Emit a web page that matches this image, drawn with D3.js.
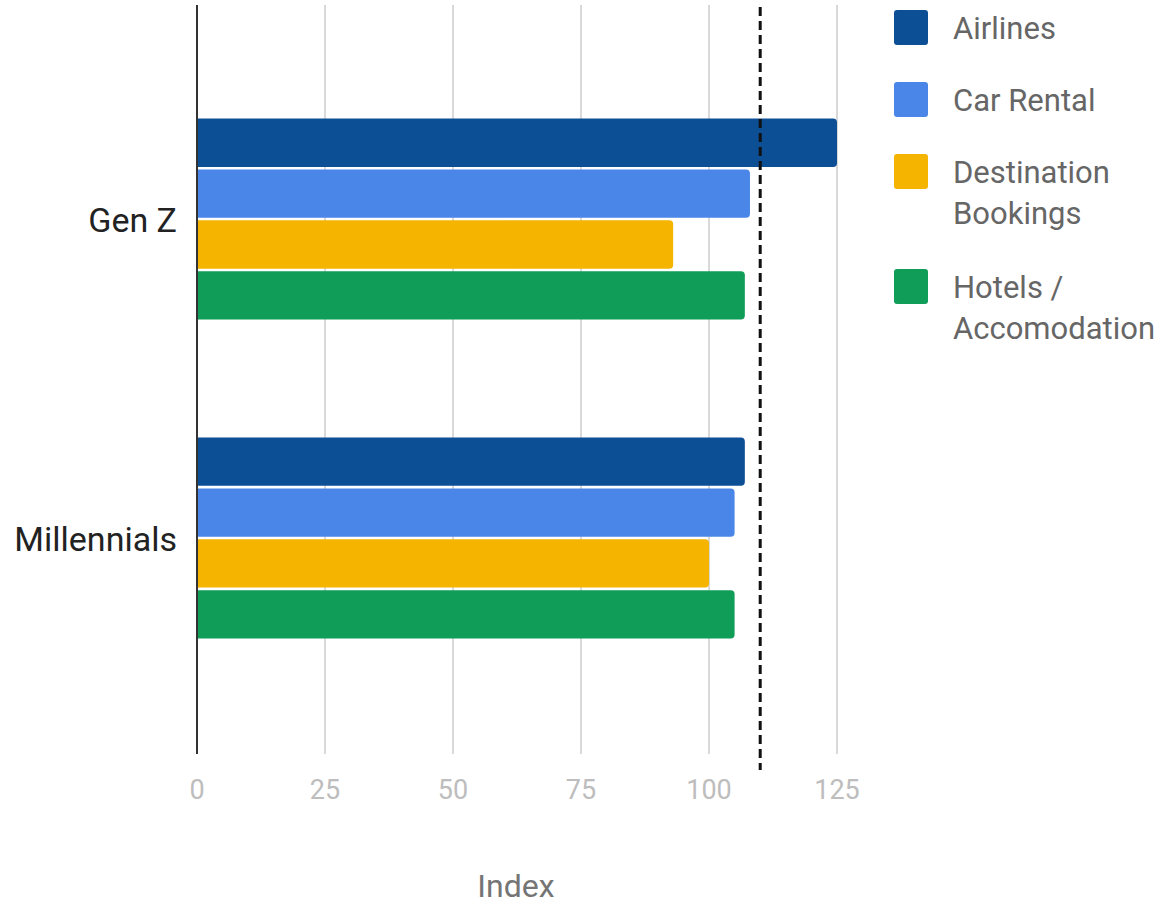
<!DOCTYPE html>
<html>
<head>
<meta charset="utf-8">
<script src="https://cdn.jsdelivr.net/npm/d3@7"></script>
<style>
  body { margin: 0; background: #fff; }
  svg { display: block; font-family: Roboto, "Noto Sans", sans-serif; }
</style>
</head>
<body>
<div id="chart"></div>
<script>
// ── Grouped horizontal bars: travel index by generation ──
const groups = ["Gen Z", "Millennials"];
const series = ["Airlines", "Car Rental", "Destination Bookings", "Hotels / Accomodation"];
const legendLines = [["Airlines"], ["Car Rental"], ["Destination", "Bookings"], ["Hotels /", "Accomodation"]];
const values = {
    "Gen Z":       [125, 108, 93, 107],
    "Millennials": [107, 105, 100, 105]
};
const xTicks = [0, 25, 50, 75, 100, 125];
const refValue = 110;
const colors = ["#0d4f95", "#4a86e8", "#f4b400", "#0f9d58"];

const width = 1165, height = 907;
const svg = d3.select("#chart").append("svg")
    .attr("width", width).attr("height", height);

const x = d3.scaleLinear().domain([0, 125]).range([197, 837]);
const y0 = d3.scaleBand().domain(groups).range([5, 752])
    .paddingInner(0).paddingOuter(0.171);
const y1 = d3.scaleBand().domain(series).range([59, 260]).paddingInner(0.05);
const color = d3.scaleOrdinal().domain(series).range(colors);

// Gridlines
svg.append("g").selectAll("line")
    .data(xTicks.filter(d => d !== 0))
    .join("line")
    .attr("x1", d => x(d)).attr("x2", d => x(d))
    .attr("y1", 5).attr("y2", 754)
    .attr("stroke", "#cccccc").attr("stroke-width", 1.5);

// Tick labels
svg.append("g").selectAll("text")
    .data(xTicks)
    .join("text")
    .attr("x", d => x(d)).attr("y", 799)
    .attr("text-anchor", "middle")
    .style("font-size", "27px").style("fill", "#bdbdbd")
    .text(d => d);

// Bars (rounded right end only)
function barPath(x0, x1, yt, h, r) {
    return `M${x0},${yt}H${x1 - r}Q${x1},${yt} ${x1},${yt + r}V${yt + h - r}Q${x1},${yt + h} ${x1 - r},${yt + h}H${x0}Z`;
}
const gGroups = svg.append("g").selectAll("g")
    .data(groups)
    .join("g")
    .attr("transform", d => `translate(0,${y0(d)})`);

gGroups.selectAll("path")
    .data(g => series.map((s, i) => ({ s, v: values[g][i] })))
    .join("path")
    .attr("d", d => barPath(x(0), x(d.v), y1(d.s), y1.bandwidth(), 4))
    .attr("fill", d => color(d.s));

// Category labels
svg.append("g").selectAll("text")
    .data(groups)
    .join("text")
    .attr("x", 177)
    .attr("y", d => y0(d) + y0.bandwidth() / 2 + 13)
    .attr("text-anchor", "end")
    .style("font-size", "34px").style("fill", "#222")
    .text(d => d);

// Zero axis line
svg.append("line")
    .attr("x1", x(0)).attr("x2", x(0))
    .attr("y1", 5).attr("y2", 754)
    .attr("stroke", "#333").attr("stroke-width", 2);

// Reference line
svg.append("line")
    .attr("x1", x(refValue)).attr("x2", x(refValue))
    .attr("y1", 7).attr("y2", 770)
    .attr("stroke", "#111").attr("stroke-width", 3)
    .attr("stroke-dasharray", "9,5");

// Axis title
svg.append("text")
    .attr("x", 516).attr("y", 897)
    .attr("text-anchor", "middle")
    .style("font-size", "32px").style("fill", "#757575")
    .text("Index");

// Legend
const legend = svg.append("g");
let ly = 10;
series.forEach((s, i) => {
    const row = legend.append("g").attr("transform", `translate(894,${ly})`);
    row.append("rect").attr("width", 34).attr("height", 35).attr("rx", 3)
        .attr("fill", color(s));
    legendLines[i].forEach((line, j) => {
        row.append("text").attr("x", 59).attr("y", 29 + j * 41)
            .style("font-size", "31px").style("fill", "#666")
            .text(line);
    });
    ly += 72 + (legendLines[i].length - 1) * 43;
});
</script>
</body>
</html>
